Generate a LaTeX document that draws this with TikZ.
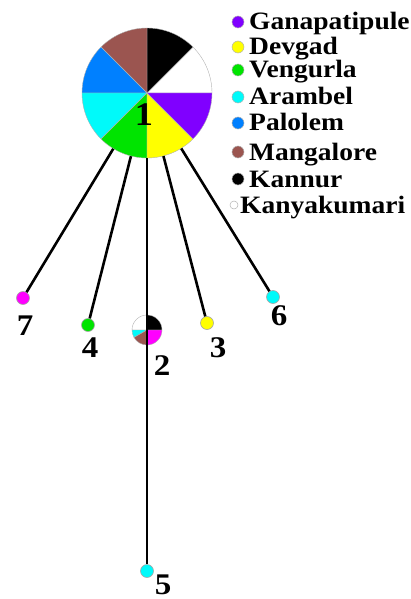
\documentclass[tikz,border=0pt]{standalone}
\usepackage{fontspec}
\setmainfont{Liberation Serif}[FakeStretch=1.1]
\definecolor{cpurple}{RGB}{128,0,255}
\definecolor{cyellow}{RGB}{255,255,0}
\definecolor{cgreen}{RGB}{0,228,0}
\definecolor{ccyan}{RGB}{0,250,250}
\definecolor{cblue}{RGB}{0,128,255}
\definecolor{cbrown}{RGB}{155,85,80}
\definecolor{cmag}{RGB}{255,0,255}
\begin{document}
\begin{tikzpicture}[x=1pt,y=-1pt,
  dot/.style={circle, draw=gray!70, line width=0.6pt, minimum size=13pt, inner sep=0pt},
  conn/.style={line width=2.6pt, black},
  num/.style={font=\fontsize{30}{30}\selectfont\bfseries, inner sep=0pt, anchor=base},
  leg/.style={font=\fontsize{25}{25}\selectfont\bfseries, anchor=base west, inner sep=0pt},
  legdot/.style={circle, draw=gray!60, line width=0.5pt, minimum size=12pt, inner sep=0pt},
  slice/.style={draw=gray!60, line width=0.4pt}]
\useasboundingbox (0,0) rectangle (411,599);
% main pie
\node[circle, minimum size=130pt, inner sep=0pt] (n1) at (147,93) {};
\foreach \a/\c in {0/white,45/black,90/cbrown,135/cblue,180/ccyan,225/cgreen,270/cyellow,315/cpurple}
  \filldraw[slice, fill=\c] (n1.center) -- ++(-\a:65) arc[start angle=-\a, end angle=-\a-45, radius=65] -- cycle;
% small pie
\node[circle, minimum size=30pt, inner sep=0pt] (n2) at (147,330) {};
\foreach \a/\b/\c in {0/90/black,90/180/white,180/210/ccyan,210/270/cbrown,270/360/cmag}
  \filldraw[slice, fill=\c] (n2.center) -- ++(-\a:15) arc[start angle=-\a, end angle=-\b, radius=15] -- cycle;
% leaf nodes
\node[dot, fill=cyellow] (n3) at (207,323) {};
\node[dot, fill=cgreen] (n4) at (88,325) {};
\node[dot, fill=ccyan] (n5) at (147,571) {};
\node[dot, fill=ccyan] (n6) at (273,297) {};
\node[dot, fill=cmag] (n7) at (23,298) {};
% connectors
\draw[conn] (n1) -- (n7);
\draw[conn] (n1) -- (n4);
\draw[conn] (n1) -- (n3);
\draw[conn] (n1) -- (n6);
\draw[conn] (n1) -- (n5);
% labels
\node[num, font=\fontsize{33}{33}\selectfont\bfseries] (l1) at (144,125) {1};
\node[num] (l2) at (162,375) {2};
\node[num] (l3) at (218,357) {3};
\node[num] (l4) at (90,357) {4};
\node[num] (l5) at (163,594) {5};
\node[num] (l6) at (279,325) {6};
\node[num] (l7) at (25,335) {7};
% legend
\foreach \y/\c/\t [count=\i] in {22/cpurple/Ganapatipule,47/cyellow/Devgad,70/cgreen/Vengurla,97/ccyan/Arambel,123/cblue/Palolem,152/cbrown/Mangalore,179/black/Kannur}{
  \node[legdot, fill=\c] (d\i) at (238,\y) {};
  \node[leg] (t\i) at (249,\y+8) {\t};
}
\node[legdot, fill=white, minimum size=8pt] (d8) at (234,205) {};
\node[leg] (t8) at (240,213) {Kanyakumari};
\end{tikzpicture}
\end{document}
